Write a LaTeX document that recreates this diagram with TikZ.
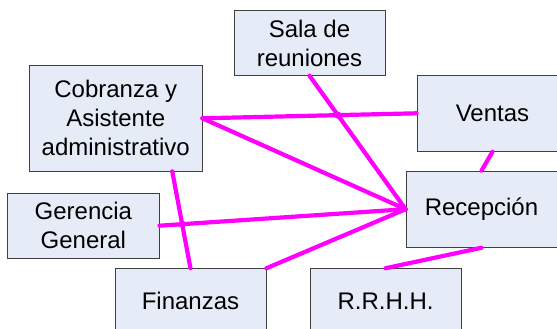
\documentclass[tikz,border=0pt]{standalone}
\usepackage{fontspec}
\setmainfont{Liberation Sans}
\usetikzlibrary{calc,intersections}
\definecolor{boxfill}{RGB}{230,236,247}
\definecolor{boxline}{RGB}{64,64,64}
\definecolor{mag}{RGB}{255,0,255}
\begin{document}
\begin{tikzpicture}[x=1pt,y=-1pt,
 box/.style={draw=boxline,line width=0.8pt,fill=boxfill,inner sep=0pt,align=center,font=\fontsize{24}{29}\selectfont},
 link/.style={draw=mag,line width=4.2pt,line cap=round},
 hop/.style={fill=mag}]
\useasboundingbox (0,0) rectangle (557,329);
\clip (0,0) rectangle (557,329);
\node[box,minimum width=151pt,minimum height=64.6pt] (sala) at (309.5,43) {Sala de\\reuniones};
\node[box,minimum width=172.5pt,minimum height=105.3pt] (cob) at (115.75,118.3) {Cobranza y\\Asistente\\administrativo};
\node[box,minimum width=151pt,minimum height=76pt] (ven) at (492.5,113.3) {Ventas};
\node[box,minimum width=151.2pt,minimum height=64.7pt] (ger) at (83.4,225.7) {Gerencia\\General};
\node[box,minimum width=151pt,minimum height=76.3pt] (rec) at (481.5,209.2) {Recepción};
\node[box,minimum width=151pt,minimum height=64.7pt] (fin) at (190.5,301) {Finanzas};
\node[box,minimum width=151pt,minimum height=64.7pt] (rrhh) at (385.5,301) {R.R.H.H.};
\draw[link,name path=cv] (cob.east) -- (ven.west);
\draw[link] (cob.east) -- (rec.west);
\draw[link,name path=sr] (sala.south) -- (rec.west);
\draw[link,name path=gr] (ger.east) -- (rec.west);
\draw[link] (fin.north east) -- (rec.west);
\draw[link,name path=cf] ($(cob.south west)!0.826!(cob.south east)$) -- (fin.north);
\draw[link] (ven.south) -- (rec.north);
\draw[link] (rec.south) -- (rrhh.north);
\path[name intersections={of=cv and sr,by=x1}];
\path[name intersections={of=gr and cf,by=x2}];
\fill[hop] (x1) circle (3.6pt);
\fill[hop] (x2) circle (3.6pt);
\end{tikzpicture}
\end{document}
